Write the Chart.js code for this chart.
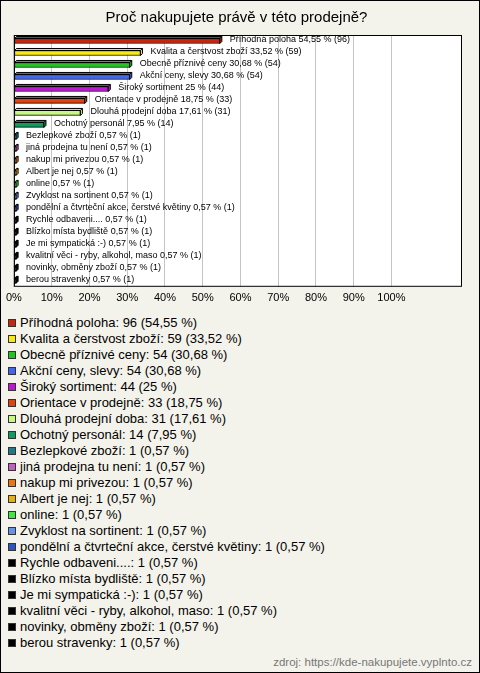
<!DOCTYPE html>
<html lang="cs">
<head>
<meta charset="UTF-8">
<title>Proč nakupujete právě v této prodejně?</title>
<style>
  body { margin: 0; background: #fff; font-family: Arial, "Liberation Sans", sans-serif; }
  .box { position: relative; width: 478px; height: 671px; border: 1px solid #000; background: #f4f3eb; overflow: hidden; }
  #chart { position: absolute; left: 0; top: 0; }
  .legend { position: absolute; left: 7px; top: 314px; margin: 0; padding: 0; list-style: none; font-size: 13px; color: #000; }
  .legend li { height: 16px; line-height: 16px; white-space: nowrap; }
  .legend span { display: inline-block; width: 6px; height: 6px; border: 1px solid #333; margin-right: 4px; vertical-align: -0px; }
  .source { position: absolute; right: 7px; top: 655px; font-size: 11.5px; color: #777; }
</style>
</head>
<body>
<div class="box">
  <canvas id="chart" width="478" height="312"></canvas>
  <ul class="legend" id="legend"></ul>
  <div class="source">zdroj: https://kde-nakupujete.vyplnto.cz</div>
</div>

<script src="https://cdn.jsdelivr.net/npm/chart.js"></script>
<script>
// answers, counts and percentages
var answers = [
  'Příhodná poloha', 'Kvalita a čerstvost zboží', 'Obecně příznivé ceny', 'Akční ceny, slevy',
  'Široký sortiment', 'Orientace v prodejně', 'Dlouhá prodejní doba', 'Ochotný personál',
  'Bezlepkové zboží', 'jiná prodejna tu není', 'nakup mi privezou', 'Albert je nej', 'online',
  'Zvyklost na sortinent', 'pondělní a čtvrteční akce, čerstvé květiny', 'Rychle odbaveni....',
  'Blízko místa bydliště', 'Je mi sympatická :-)', 'kvalitní věci - ryby, alkohol, maso',
  'novinky, obměny zboží', 'berou stravenky'
];
var counts = [96, 59, 54, 54, 44, 33, 31, 14, 1, 1, 1, 1, 1, 1, 1, 1, 1, 1, 1, 1, 1];
var percents = [54.55, 33.52, 30.68, 30.68, 25, 18.75, 17.61, 7.95, 0.57, 0.57, 0.57, 0.57, 0.57,
  0.57, 0.57, 0.57, 0.57, 0.57, 0.57, 0.57, 0.57];
var colors = [
  '#c8250f', '#fbe80f', '#22c322', '#4466ee', '#bb18d0', '#e04212', '#c8f884', '#119a60',
  '#21788a', '#c060c0', '#e8780f', '#e8b00f', '#44e444', '#6494e4', '#2f52c0',
  '#000000', '#000000', '#000000', '#000000', '#000000', '#000000'
];
var xTicks = [0, 10, 20, 30, 40, 50, 60, 70, 80, 90, 100];

function fmt(v) { return String(v).replace('.', ','); }

// white plot area with black frame
var plotFrame = {
  id: 'plotFrame',
  beforeDraw: function (chart) {
    var a = chart.chartArea, ctx = chart.ctx;
    ctx.save();
    ctx.fillStyle = '#fff';
    ctx.fillRect(a.left, a.top, a.right - a.left, a.bottom - a.top);
    ctx.restore();
  },
  afterDraw: function (chart) {
    var a = chart.chartArea, ctx = chart.ctx;
    ctx.save();
    ctx.strokeStyle = '#000';
    ctx.lineWidth = 1;
    ctx.strokeRect(a.left + 0.5, a.top + 0.5, a.right - a.left - 1, a.bottom - a.top - 1);
    ctx.restore();
  }
};

// fake 3d faces + value labels next to each bar
var bars3d = {
  id: 'bars3d',
  afterDatasetsDraw: function (chart) {
    var ctx = chart.ctx, d = 2;
    var meta = chart.getDatasetMeta(0);
    ctx.save();
    meta.data.forEach(function (bar, i) {
      var top = bar.y - bar.height / 2, bot = bar.y + bar.height / 2;
      ctx.fillStyle = colors[i];
      ctx.strokeStyle = '#000';
      ctx.lineWidth = 1;
      ctx.beginPath();
      ctx.moveTo(bar.base, top);
      ctx.lineTo(bar.base + d, top - d);
      ctx.lineTo(bar.x + d, top - d);
      ctx.lineTo(bar.x + d, bot - d);
      ctx.lineTo(bar.x, bot);
      ctx.lineTo(bar.x, top);
      ctx.closePath();
      ctx.fill();
      ctx.stroke();
      ctx.beginPath();
      ctx.moveTo(bar.x, top);
      ctx.lineTo(bar.x + d, top - d);
      ctx.stroke();

      ctx.fillStyle = '#000';
      ctx.font = '9px Arial, "Liberation Sans", sans-serif';
      ctx.textBaseline = 'middle';
      ctx.fillText(answers[i] + ' ' + fmt(percents[i]) + ' % (' + counts[i] + ')', bar.x + 10, bar.y - 1);
    });
    ctx.restore();
  }
};

new Chart(document.getElementById('chart'), {
  type: 'bar',
  data: {
    labels: answers,
    datasets: [{
      data: percents,
      backgroundColor: colors,
      borderColor: '#000',
      borderWidth: 1,
      borderSkipped: false,
      barThickness: 5
    }]
  },
  options: {
    indexAxis: 'y',
    responsive: false,
    animation: false,
    layout: { padding: { left: 10, right: 17, top: 0, bottom: 3 } },
    plugins: {
      legend: { display: false },
      tooltip: { enabled: false },
      title: {
        display: true,
        text: 'Proč nakupujete právě v této prodejně?',
        color: '#000',
        font: { family: 'Arial, "Liberation Sans", sans-serif', size: 15, weight: 'normal' },
        padding: { top: 8, bottom: 8 }
      }
    },
    scales: {
      x: {
        min: 0,
        max: 118.7,
        afterBuildTicks: function (s) {
          s.ticks = xTicks.map(function (v) { return { value: v }; });
        },
        grid: { color: '#c4c4c4', drawTicks: false },
        border: { display: false },
        ticks: {
          color: '#000',
          padding: 5,
          font: { family: 'Arial, "Liberation Sans", sans-serif', size: 11 },
          callback: function (v) { return v + '%'; }
        }
      },
      y: { display: false }
    }
  },
  plugins: [plotFrame, bars3d]
});

// legend as a single column below the chart
var ul = document.getElementById('legend');
answers.forEach(function (a, i) {
  var li = document.createElement('li');
  var sq = document.createElement('span');
  sq.style.background = colors[i];
  li.appendChild(sq);
  li.appendChild(document.createTextNode(a + ': ' + counts[i] + ' (' + fmt(percents[i]) + ' %)'));
  ul.appendChild(li);
});
</script>
</body>
</html>
